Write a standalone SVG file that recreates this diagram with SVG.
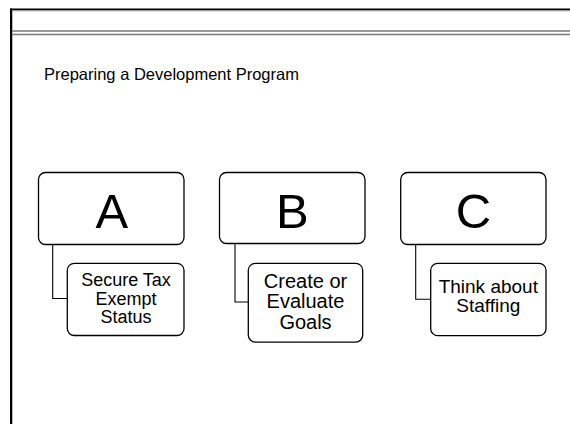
<svg xmlns="http://www.w3.org/2000/svg" width="570" height="424" viewBox="0 0 570 424">
<style>
.frame{stroke:#000;stroke-width:2;fill:none}
.inner{stroke:#bbb;stroke-width:1;fill:none}
.rule{stroke:#777;stroke-width:1.4;fill:none}
.box{fill:#fff;stroke:#000;stroke-width:1.3}
.conn{fill:none;stroke:#000;stroke-width:1.1}
.big{font-family:"Liberation Sans",Arial,sans-serif;font-size:49px;text-anchor:middle;fill:#000}
.sub{font-family:"Liberation Sans",Arial,sans-serif;text-anchor:middle;fill:#000}
.title{font-family:"Liberation Sans",Arial,sans-serif;font-size:16.5px;fill:#000}
</style>
<rect width="570" height="424" fill="#fff"/>
<g id="frame">
<line class="frame" x1="10" y1="9.5" x2="570" y2="9.5"/>
<line class="frame" x1="11" y1="8.5" x2="11" y2="424"/>
<line class="inner" x1="12.5" y1="11" x2="570" y2="11"/>
<line class="inner" x1="12.5" y1="11" x2="12.5" y2="424"/>
<line class="rule" x1="12" y1="31" x2="570" y2="31"/>
<line class="rule" x1="12" y1="34.5" x2="570" y2="34.5"/>
</g>
<text class="title" x="44" y="80">Preparing a Development Program</text>
<g id="connectors">
<path class="conn" d="M52.7,244.3 V298.5 H67.3"/>
<path class="conn" d="M235,243.3 V302 H248.3"/>
<path class="conn" d="M415.7,244.3 V299.3 H430.7"/>
</g>
<g id="nodeA">
<rect class="box" x="38.5" y="172.5" width="145.5" height="72" rx="7"/>
<text class="big" x="111.8" y="227.5">A</text>
</g>
<g id="nodeA1">
<rect class="box" x="67.3" y="263.3" width="116.7" height="72.2" rx="7"/>
<text class="sub" font-size="18" x="126" y="286">Secure Tax<tspan x="126" y="304.5">Exempt</tspan><tspan x="126" y="323.2">Status</tspan></text>
</g>
<g id="nodeB">
<rect class="box" x="219.5" y="172.5" width="145.5" height="71" rx="7"/>
<text class="big" x="292.3" y="227.5">B</text>
</g>
<g id="nodeB1">
<rect class="box" x="248.3" y="263.3" width="114.4" height="78.8" rx="7"/>
<text class="sub" font-size="20" x="305.5" y="288.3">Create or<tspan x="305.5" y="308.4">Evaluate</tspan><tspan x="305.5" y="329">Goals</tspan></text>
</g>
<g id="nodeC">
<rect class="box" x="400.7" y="172.5" width="145.3" height="72" rx="7"/>
<text class="big" x="473.5" y="227.5">C</text>
</g>
<g id="nodeC1">
<rect class="box" x="430.7" y="263.3" width="115.3" height="72.4" rx="7"/>
<text class="sub" font-size="19" x="488.3" y="293.3">Think about<tspan x="488.3" y="312.3">Staffing</tspan></text>
</g>
</svg>
